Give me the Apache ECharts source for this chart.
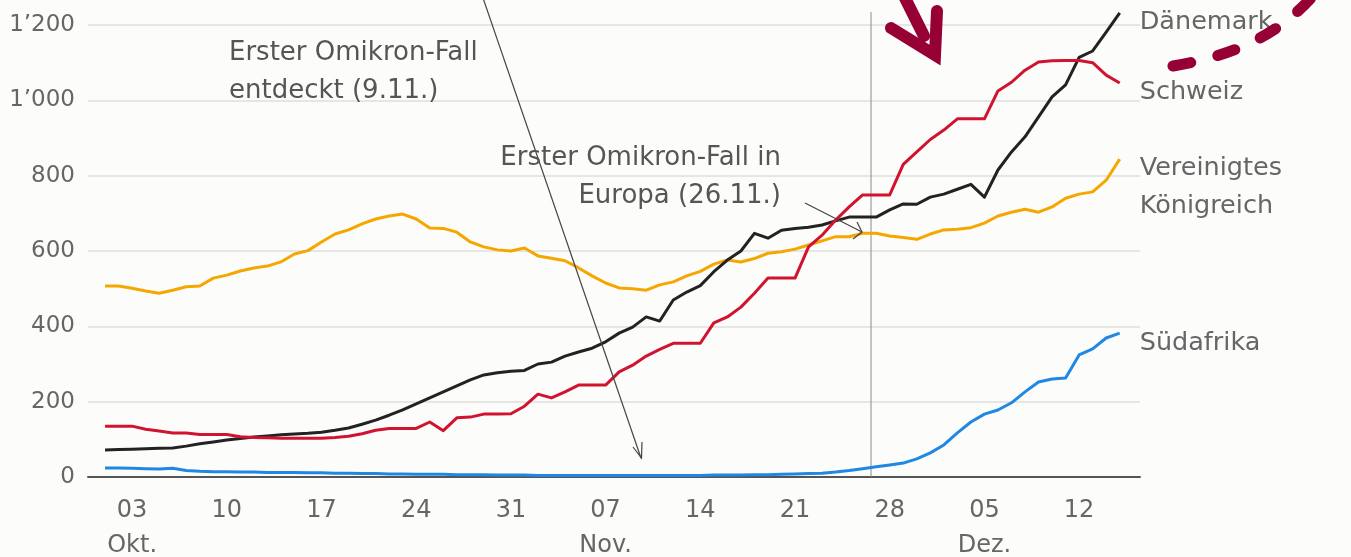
<!DOCTYPE html>
<html>
<head>
<meta charset="utf-8">
<script src="https://cdn.jsdelivr.net/npm/echarts@6/dist/echarts.min.js"></script>
<style>
  html, body { margin: 0; padding: 0; background: #fcfcfb; }
  #chart { width: 1351px; height: 557px; }
</style>
</head>
<body>
<div id="chart"></div>
<script>
// Dates (daily, 1 Oct – 15 Dec 2021)
const dates = [
  '01.10.','02.10.','03.10.','04.10.','05.10.','06.10.','07.10.','08.10.','09.10.','10.10.',
  '11.10.','12.10.','13.10.','14.10.','15.10.','16.10.','17.10.','18.10.','19.10.','20.10.',
  '21.10.','22.10.','23.10.','24.10.','25.10.','26.10.','27.10.','28.10.','29.10.','30.10.','31.10.',
  '01.11.','02.11.','03.11.','04.11.','05.11.','06.11.','07.11.','08.11.','09.11.','10.11.',
  '11.11.','12.11.','13.11.','14.11.','15.11.','16.11.','17.11.','18.11.','19.11.','20.11.',
  '21.11.','22.11.','23.11.','24.11.','25.11.','26.11.','27.11.','28.11.','29.11.','30.11.',
  '01.12.','02.12.','03.12.','04.12.','05.12.','06.12.','07.12.','08.12.','09.12.','10.12.',
  '11.12.','12.12.','13.12.','14.12.','15.12.'
];

const ukValues = [
  507,507,501,494,488,496,505,507,528,536,
  547,555,560,571,592,601,624,645,656,672,
  685,693,698,685,661,660,650,624,611,603,600,
  608,587,581,574,555,534,515,502,500,496,
  510,518,534,546,565,576,571,580,594,598,
  605,616,627,638,638,647,647,640,636,631,
  645,656,658,662,674,693,703,711,703,717,
  740,751,757,788,844
];

const dkValues = [
  72,73,74,75,76,77,82,88,93,98,
  102,106,109,112,114,116,119,124,130,140,
  151,164,178,194,210,226,242,258,271,277,281,
  283,300,305,321,332,342,359,382,398,425,
  414,470,491,508,545,576,600,647,634,655,
  660,663,669,680,690,690,690,709,725,724,
  743,751,764,777,743,815,863,903,956,1009,
  1041,1114,1131,1181,1232
];

const chValues = [
  135,135,135,127,122,117,117,113,113,113,
  107,105,104,103,103,103,103,105,108,115,
  124,129,129,129,146,123,157,159,167,167,168,
  188,220,210,226,244,244,244,279,297,321,
  339,355,355,355,409,425,451,488,528,528,
  528,611,642,682,717,749,749,749,830,863,
  896,921,951,951,951,1025,1048,1080,1102,1105,
  1106,1106,1100,1067,1046
];

const zaValues = [
  24,24,23,22,21,23,17,15,14,14,
  13,13,12,12,12,11,11,10,10,9,
  9,8,8,7,7,7,6,6,6,5,5,
  5,4,4,4,4,4,4,4,4,4,
  4,4,4,4,5,5,5,6,6,7,
  8,9,10,13,17,22,27,32,37,48,
  64,85,117,146,167,178,197,226,252,260,
  263,324,340,369,382
];

const tickDates = ['03.10.','10.10.','17.10.','24.10.','31.10.','07.11.','14.11.','21.11.','28.11.','05.12.','12.12.'];
const tickLabels = ['03\nOkt.','10','17','24','31','07\nNov.','14','21','28','05\nDez.','12'];

const seriesNames = ['Vereinigtes\nKönigreich', 'Dänemark', 'Schweiz', 'Südafrika'];
const seriesColors = ['#f5a700', '#222222', '#d0142f', '#1f88e2'];

const FONT = 'DejaVu Sans';
const tickIdx = tickDates.map(d => dates.indexOf(d));
const toPairs = vals => vals.map((v, i) => [i, v]);

function fmtY(v) {
  return v >= 1000 ? Math.floor(v / 1000) + '\u2019' + String(v % 1000).padStart(3, '0') : String(v);
}

const chart = echarts.init(document.getElementById('chart'), null, { renderer: 'canvas' });

function mkSeries(name, vals, color, labelOffsetY, z) {
  return {
    type: 'line',
    name: name,
    data: toPairs(vals),
    showSymbol: false,
    symbol: 'none',
    clip: false,
    z: z,
    lineStyle: { color: color, width: 3, join: 'round' },
    itemStyle: { color: color },
    emphasis: { disabled: true },
    endLabel: {
      show: true,
      formatter: name,
      color: '#666',
      fontFamily: FONT,
      fontSize: 25.5,
      lineHeight: 38,
      distance: 20,
      offset: [0, labelOffsetY]
    }
  };
}

const option = {
  animation: false,
  backgroundColor: '#fcfcfb',
  grid: { left: 88, right: 211, top: 25, bottom: 80, containLabel: false, outerBoundsMode: 'none' },
  xAxis: {
    type: 'value',
    min: -1.26,
    max: 76.5,
    axisLine: { show: true, lineStyle: { color: '#555', width: 2 } },
    axisTick: { show: false },
    splitLine: { show: false },
    axisLabel: {
      customValues: tickIdx,
      formatter: v => tickLabels[tickIdx.indexOf(Math.round(v))] || '',
      color: '#666',
      fontFamily: FONT,
      fontSize: 24,
      lineHeight: 35,
      margin: 16
    }
  },
  yAxis: {
    type: 'value',
    min: 0,
    max: 1200,
    interval: 200,
    axisLine: { show: false },
    axisTick: { show: false },
    splitLine: { show: true, lineStyle: { color: '#e6e6e6', width: 2 } },
    axisLabel: {
      formatter: v => fmtY(v),
      color: '#666',
      fontFamily: FONT,
      fontSize: 23,
      margin: 13
    }
  },
  series: [
    mkSeries(seriesNames[0], ukValues, seriesColors[0], 28, 2),
    mkSeries(seriesNames[1], dkValues, seriesColors[1], 9, 3),
    mkSeries(seriesNames[2], chValues, seriesColors[2], 9, 4),
    mkSeries(seriesNames[3], zaValues, seriesColors[3], 10, 5)
  ],
  graphic: [
    // vertical reference line (26.11.)
    { type: 'line', shape: { x1: 871, y1: 12, x2: 871, y2: 477 }, style: { stroke: '#8a8a8a', lineWidth: 1 }, z: 1 },
    // annotation 1
    { type: 'text', x: 229, y: 34, style: { text: 'Erster Omikron-Fall\nentdeckt (9.11.)', fill: '#555', font: '26px "DejaVu Sans"', lineHeight: 38, align: 'left', verticalAlign: 'top' }, z: 10 },
    { type: 'line', shape: { x1: 483, y1: -2, x2: 641, y2: 458 }, style: { stroke: '#444', lineWidth: 1.2 }, z: 10 },
    { type: 'polyline', shape: { points: [[633, 447], [641.5, 458], [642, 442]] }, style: { stroke: '#444', lineWidth: 1.2, fill: null }, z: 10 },
    // annotation 2
    { type: 'text', x: 781, y: 139, style: { text: 'Erster Omikron-Fall in\nEuropa (26.11.)', fill: '#555', font: '26px "DejaVu Sans"', lineHeight: 38, align: 'right', verticalAlign: 'top' }, z: 10 },
    { type: 'line', shape: { x1: 805, y1: 203, x2: 862, y2: 232 }, style: { stroke: '#444', lineWidth: 1.2 }, z: 10 },
    { type: 'polyline', shape: { points: [[853, 239], [862, 232], [857, 222]] }, style: { stroke: '#444', lineWidth: 1.2, fill: null }, z: 10 },
    // dark red hand-drawn arrow
    { type: 'polyline', shape: { points: [[891, 28], [935, 55], [937, 11]] }, style: { stroke: '#960035', lineWidth: 12, lineCap: 'round', lineJoin: 'miter', miterLimit: 10, fill: null }, z: 20 },
    { type: 'line', shape: { x1: 902, y1: -8, x2: 924, y2: 36 }, style: { stroke: '#960035', lineWidth: 12, lineCap: 'round' }, z: 20 },
    // dark red dashed curve
    { type: 'bezierCurve', shape: { x1: 1173, y1: 66, cpx1: 1232, cpy1: 56, cpx2: 1280, cpy2: 36, x2: 1318, y2: -10 },
      style: { stroke: '#960035', lineWidth: 11, lineCap: 'round', lineDash: [18, 28], fill: null }, z: 20 }
  ]
};

chart.setOption(option);
</script>
</body>
</html>
